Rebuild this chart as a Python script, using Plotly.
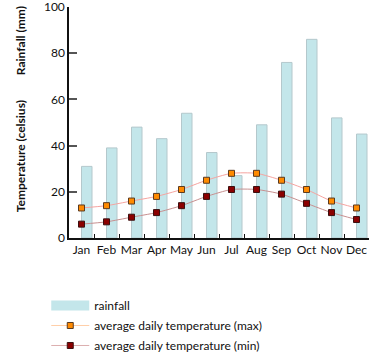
import plotly.graph_objects as go

months = ["Jan", "Feb", "Mar", "Apr", "May", "Jun", "Jul", "Aug", "Sep", "Oct", "Nov", "Dec"]
rainfall = [31, 39, 48, 43, 54, 37, 27, 49, 76, 86, 52, 45]
temp_max = [13, 14, 16, 18, 21, 25, 28, 28, 25, 21, 16, 13]
temp_min = [6, 7, 9, 11, 14, 18, 21, 21, 19, 15, 11, 8]
y_ticks = [0, 20, 40, 60, 80, 100]

FONT = "Lato, 'Open Sans', sans-serif"
BAR_COLOR = "#c3e6ea"
MAX_MARKER = dict(symbol="square", size=6, color="#ff8a00", line=dict(color="#5a3a20", width=1))
MIN_MARKER = dict(symbol="square", size=6, color="#8b0000", line=dict(color="#3a1010", width=1))

fig = go.Figure()
fig.add_trace(go.Bar(
    x=months, y=rainfall, name="rainfall", showlegend=False,
    offset=0, width=0.42,
    marker=dict(color=BAR_COLOR, line=dict(color="#b4c8cc", width=1)),
))
fig.add_trace(go.Scatter(
    x=months, y=temp_max, name="average daily temperature (max)", showlegend=False,
    mode="lines+markers",
    line=dict(color="#f6a4a0", width=1, shape="spline", smoothing=0.6),
    marker=MAX_MARKER,
))
fig.add_trace(go.Scatter(
    x=months, y=temp_min, name="average daily temperature (min)", showlegend=False,
    mode="lines+markers",
    line=dict(color="#c89090", width=1, shape="spline", smoothing=0.6),
    marker=MIN_MARKER,
))
# legend-only entries styled like the reference's legend swatches
fig.add_trace(go.Scatter(
    x=[None], y=[None], name="rainfall", mode="lines", legendgroup="g1",
    line=dict(color=BAR_COLOR, width=10),
))
fig.add_trace(go.Scatter(
    x=[None], y=[None], name="average daily temperature (max)", mode="lines+markers",
    legendgroup="g2", line=dict(color="#ffcfa8", width=1), marker=MAX_MARKER,
))
fig.add_trace(go.Scatter(
    x=[None], y=[None], name="average daily temperature (min)", mode="lines+markers",
    legendgroup="g3", line=dict(color="#dcb0b0", width=1), marker=MIN_MARKER,
))

fig.update_layout(
    width=370, height=354,
    margin=dict(l=69, r=1, t=7, b=116, autoexpand=False),
    paper_bgcolor="white", plot_bgcolor="white",
    font=dict(family=FONT, size=12, color="#111"),
    showlegend=True,
    legend=dict(
        xref="container", yref="container",
        x=0.125, y=0.178, xanchor="left", yanchor="top",
        font=dict(size=12, color="#111"),
        itemwidth=38, bgcolor="rgba(0,0,0,0)",
        tracegroupgap=1,
    ),
    xaxis=dict(
        type="category", range=[-0.5, 11.5],
        showline=True, linecolor="#111", linewidth=1.5,
        ticks="inside", ticklen=4, tickcolor="#111", tickwidth=1,
        tickson="boundaries", showgrid=False, zeroline=False,
        tickfont=dict(size=12), tickangle=0, automargin=False, fixedrange=True,
    ),
    yaxis=dict(
        range=[0, 100], tickvals=y_ticks,
        showline=True, linecolor="#111", linewidth=1.5,
        ticks="inside", ticklen=8, tickcolor="#555", tickwidth=2,
        showgrid=False, zeroline=False, automargin=False,
        ticklabeloverflow="allow",
        tickfont=dict(size=12), fixedrange=True,
    ),
    annotations=[
        dict(text="<b>Rainfall (mm)</b>", textangle=-90, xref="paper", yref="paper",
             x=(20 - 69) / 301, y=(238 - 41) / 231, showarrow=False, font=dict(size=12),
             xanchor="center", yanchor="middle"),
        dict(text="<b>Temperature (celsius)</b>", textangle=-90, xref="paper", yref="paper",
             x=(20 - 69) / 301, y=(238 - 156) / 231, showarrow=False, font=dict(size=12),
             xanchor="center", yanchor="middle"),
    ],
)

fig.write_html("out.html")
